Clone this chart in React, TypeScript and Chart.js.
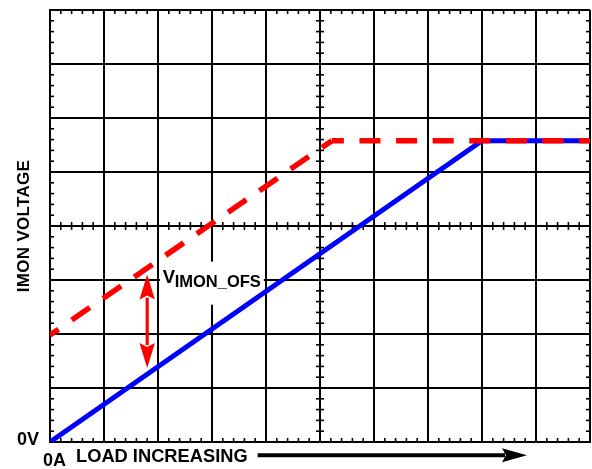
import React, { useEffect, useRef } from "react";
import { Chart, registerables } from "chart.js";

Chart.register(...registerables);

// ---- data (grid divisions) ----
const X_MIN = 0;
const X_MAX = 10;
const Y_MIN = 0;
const Y_MAX = 8;
const MINOR_PER_DIV = 5;
const CENTER_X = 5;
const CENTER_Y = 4;

const blueLoad = [0, 8, 10];
const blueVolt = [0, 5.58, 5.58];

const redLoad = [0, 5.22, 10];
const redVolt = [1.98, 5.58, 5.58];

const ofsArrowX = 1.8;
const ofsArrowY = [1.37, 3.1];
const ofsLabelPos = [2.09, 2.95];

const yTitle = "IMON VOLTAGE";
const xTitle = "LOAD INCREASING";
const zeroV = "0V";
const zeroA = "0A";
const labelMain = "V";
const labelSub = "IMON_OFS";

const FONT = "'Liberation Sans', Arial, Helvetica, sans-serif";

const overlay = {
  id: "overlay",
  beforeDatasetsDraw(chart: any) {
    const { ctx, chartArea: a, scales } = chart;
    const x = scales.x;
    const y = scales.y;
    ctx.save();
    // white box behind label
    const lx = x.getPixelForValue(ofsLabelPos[0]);
    const ly = y.getPixelForValue(ofsLabelPos[1]);
    ctx.fillStyle = "#ffffff";
    ctx.fillRect(lx - 3, ly - 21, 104, 43);

    // minor ticks
    ctx.strokeStyle = "#000";
    ctx.lineWidth = 1.6;
    const L = 4;
    const line = (x1: number, y1: number, x2: number, y2: number) => {
      ctx.beginPath();
      ctx.moveTo(x1, y1);
      ctx.lineTo(x2, y2);
      ctx.stroke();
    };
    const cy = y.getPixelForValue(CENTER_Y);
    const cx = x.getPixelForValue(CENTER_X);
    for (let i = 0; i <= X_MAX * MINOR_PER_DIV; i++) {
      if (i % MINOR_PER_DIV === 0) continue;
      const px = x.getPixelForValue(i / MINOR_PER_DIV);
      line(px, a.bottom, px, a.bottom - L);
      line(px, a.top, px, a.top + L);
      line(px, cy - L, px, cy + L);
    }
    for (let i = 0; i <= Y_MAX * MINOR_PER_DIV; i++) {
      if (i % MINOR_PER_DIV === 0) continue;
      const py = y.getPixelForValue(i / MINOR_PER_DIV);
      line(a.left, py, a.left + L, py);
      line(a.right, py, a.right - L, py);
      line(cx - L, py, cx + L, py);
    }
    ctx.restore();
  },
  afterDatasetsDraw(chart: any) {
    const { ctx, scales } = chart;
    const x = scales.x;
    const y = scales.y;
    ctx.save();
    // double arrow
    const ax = x.getPixelForValue(ofsArrowX);
    const yb = y.getPixelForValue(ofsArrowY[0]);
    const yt = y.getPixelForValue(ofsArrowY[1]);
    const headL = 25;
    const headW = 7.7;
    ctx.strokeStyle = "#ff0000";
    ctx.fillStyle = "#ff0000";
    ctx.lineWidth = 3.2;
    ctx.beginPath();
    ctx.moveTo(ax, yt + headL - 2);
    ctx.lineTo(ax, yb - headL + 2);
    ctx.stroke();
    ctx.beginPath();
    ctx.moveTo(ax, yt);
    ctx.lineTo(ax + headW, yt + headL);
    ctx.lineTo(ax, yt + headL - 4);
    ctx.lineTo(ax - headW, yt + headL);
    ctx.closePath();
    ctx.fill();
    ctx.beginPath();
    ctx.moveTo(ax, yb);
    ctx.lineTo(ax + headW, yb - headL);
    ctx.lineTo(ax, yb - headL + 4);
    ctx.lineTo(ax - headW, yb - headL);
    ctx.closePath();
    ctx.fill();

    // label
    const lx = x.getPixelForValue(ofsLabelPos[0]);
    const ly = y.getPixelForValue(ofsLabelPos[1]);
    ctx.fillStyle = "#000";
    ctx.textAlign = "left";
    ctx.textBaseline = "alphabetic";
    ctx.font = `bold 18.5px ${FONT}`;
    ctx.fillText(labelMain, lx, ly);
    const w = ctx.measureText(labelMain).width;
    ctx.font = `bold 16.5px ${FONT}`;
    ctx.fillText(labelSub, lx + w - 0.5, ly + 4);
    ctx.restore();
  },
  afterDraw(chart: any) {
    const { ctx, chartArea: a } = chart;
    ctx.save();
    ctx.fillStyle = "#000";
    ctx.textBaseline = "alphabetic";
    // y title
    ctx.save();
    ctx.translate(a.left - 26, (a.top + a.bottom) / 2);
    ctx.rotate(-Math.PI / 2);
    ctx.font = `bold 17px ${FONT}`;
    ctx.textAlign = "center";
    ctx.textBaseline = "middle";
    (ctx as any).letterSpacing = "0.3px";
    ctx.fillText(yTitle, 0, 0);
    ctx.restore();

    ctx.font = `bold 18px ${FONT}`;
    ctx.textAlign = "right";
    ctx.fillText(zeroV, a.left - 11, a.bottom + 3);
    ctx.textAlign = "left";
    ctx.fillText(zeroA, a.left - 7, a.bottom + 24);
    ctx.font = `bold 18.3px ${FONT}`;
    ctx.fillText(xTitle, a.left + 26, a.bottom + 19.5);
    const tw = ctx.measureText(xTitle).width;

    // x arrow
    const ay = a.bottom + 13.3;
    const x0 = a.left + 26 + tw + 10;
    const tip = a.left + 477;
    ctx.strokeStyle = "#000";
    ctx.lineWidth = 4;
    ctx.beginPath();
    ctx.moveTo(x0, ay);
    ctx.lineTo(tip - 22, ay);
    ctx.stroke();
    ctx.beginPath();
    ctx.moveTo(tip, ay);
    ctx.lineTo(tip - 25, ay - 7);
    ctx.lineTo(tip - 21, ay);
    ctx.lineTo(tip - 25, ay + 7);
    ctx.closePath();
    ctx.fill();
    ctx.restore();
  },
};

export default function App() {
  const ref = useRef<HTMLCanvasElement | null>(null);
  useEffect(() => {
    if (!ref.current) return;
    const chart = new Chart(ref.current, {
      type: "line",
      data: {
        datasets: [
          {
            label: "red",
            data: redLoad.map((v, i) => ({ x: v, y: redVolt[i] })),
            borderColor: "#ff0000",
            borderWidth: 5.5,
            borderCapStyle: "butt",
            pointRadius: 0,
            fill: false,
            tension: 0,
            segment: {
              borderDash: (c: any) => (c.p0DataIndex === 0 ? [22, 16] : [21, 15.6]),
              borderDashOffset: (c: any) => (c.p0DataIndex === 0 ? 11.6 : 9),
            },
          },
          {
            label: "blue",
            data: blueLoad.map((v, i) => ({ x: v, y: blueVolt[i] })),
            borderColor: "#0000ff",
            borderWidth: 5,
            pointRadius: 0,
            fill: false,
            tension: 0,
          },
        ],
      },
      options: {
        animation: false,
        responsive: false,
        devicePixelRatio: 1,
        layout: { padding: { left: 50, right: 2, top: 10, bottom: 27 } },
        plugins: { legend: { display: false }, tooltip: { enabled: false } },
        scales: {
          x: {
            type: "linear",
            min: X_MIN,
            max: X_MAX,
            ticks: { display: false, stepSize: 1 },
            grid: { color: "#000", lineWidth: 2, drawTicks: false },
            border: { display: true, color: "#000", width: 2 },
          },
          y: {
            type: "linear",
            min: Y_MIN,
            max: Y_MAX,
            ticks: { display: false, stepSize: 1 },
            grid: { color: "#000", lineWidth: 2, drawTicks: false },
            border: { display: true, color: "#000", width: 2 },
          },
        },
      },
      plugins: [overlay],
    });
    return () => chart.destroy();
  }, []);
  return (
    <div style={{ position: "absolute", left: 0, top: 0, width: 592, height: 469, background: "#fff" }}>
      <canvas ref={ref} width={592} height={469} style={{ width: 592, height: 469, display: "block" }} />
    </div>
  );
}
